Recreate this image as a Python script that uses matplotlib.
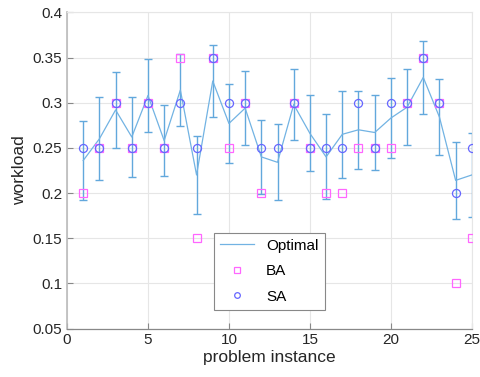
import matplotlib
matplotlib.use("Agg")
import matplotlib.pyplot as plt
import numpy as np

plt.rcParams['font.family'] = ['Liberation Sans', 'DejaVu Sans']

instances = list(range(1, 26))
optimal = [0.236, 0.260, 0.292, 0.262, 0.308, 0.258, 0.314, 0.220, 0.324, 0.277,
           0.294, 0.240, 0.234, 0.298, 0.266, 0.240, 0.265, 0.270, 0.267, 0.283,
           0.295, 0.328, 0.284, 0.214, 0.220]
opt_err = [0.044, 0.046, 0.042, 0.044, 0.040, 0.039, 0.040, 0.043, 0.040, 0.044,
           0.041, 0.041, 0.042, 0.039, 0.042, 0.047, 0.048, 0.043, 0.041, 0.044,
           0.042, 0.040, 0.042, 0.043, 0.047]
ba = [0.20, 0.25, 0.30, 0.25, 0.30, 0.25, 0.35, 0.15, 0.35, 0.25,
      0.30, 0.20, 0.15, 0.30, 0.25, 0.20, 0.20, 0.25, 0.25, 0.25,
      0.30, 0.35, 0.30, 0.10, 0.15]
sa = [0.25, 0.25, 0.30, 0.25, 0.30, 0.25, 0.30, 0.25, 0.35, 0.30,
      0.30, 0.25, 0.25, 0.30, 0.25, 0.25, 0.25, 0.30, 0.25, 0.30,
      0.30, 0.35, 0.30, 0.20, 0.25]
xticks = [0, 5, 10, 15, 20, 25]
yticks = [0.05, 0.1, 0.15, 0.2, 0.25, 0.3, 0.35, 0.4]
ytick_labels = ['0.05', '0.1', '0.15', '0.2', '0.25', '0.3', '0.35', '0.4']

fig = plt.figure(figsize=(4.8, 3.77), dpi=100)
ax = fig.add_axes([0.1396, 0.1286, 0.8434, 0.8386])

ax.errorbar(instances, optimal, yerr=opt_err, fmt='none', ecolor='#62a8dc',
            elinewidth=1.0, capsize=3, capthick=1.0, zorder=2)
ax.plot(instances, optimal, '-', color='#72b3e3', lw=0.9, label='Optimal', zorder=3)
ax.plot(instances, ba, 's', ms=5.8, mfc='none', mec='#ff66ff', mew=0.9, label='BA', zorder=4)
ax.plot(instances, sa, 'o', ms=5.8, mfc='none', mec='#6666ff', mew=0.9, label='SA', zorder=5)

ax.set_xlim(0, 25)
ax.set_ylim(0.05, 0.4)
ax.set_xticks(xticks)
ax.set_yticks(yticks)
ax.set_yticklabels(ytick_labels)
ax.grid(True, color='#e6e6e6', lw=0.8)
ax.set_axisbelow(True)
ax.tick_params(direction='in', length=4, colors='#888888', labelcolor='#262626', labelsize=11)
for s in ['top', 'right']:
    ax.spines[s].set_color('#e6e6e6')
    ax.spines[s].set_linewidth(0.8)
ax.spines['left'].set_color('#bbbbbb')
ax.spines['left'].set_linewidth(1.2)
ax.spines['bottom'].set_color('#888888')
ax.spines['bottom'].set_linewidth(0.9)

ax.set_xlabel('problem instance', fontsize=12.5, color='#262626', labelpad=2)
ax.set_ylabel('workload', fontsize=12.5, color='#262626', labelpad=4)

leg = ax.legend(loc='lower center', bbox_to_anchor=(0.5, 0.035), fontsize=11,
                fancybox=False, framealpha=1, edgecolor='#888888',
                handlelength=2.2, borderpad=0.4, labelspacing=0.75,
                markerscale=0.7)
leg.get_frame().set_linewidth(0.8)

fig.savefig('out.png', dpi=100)
